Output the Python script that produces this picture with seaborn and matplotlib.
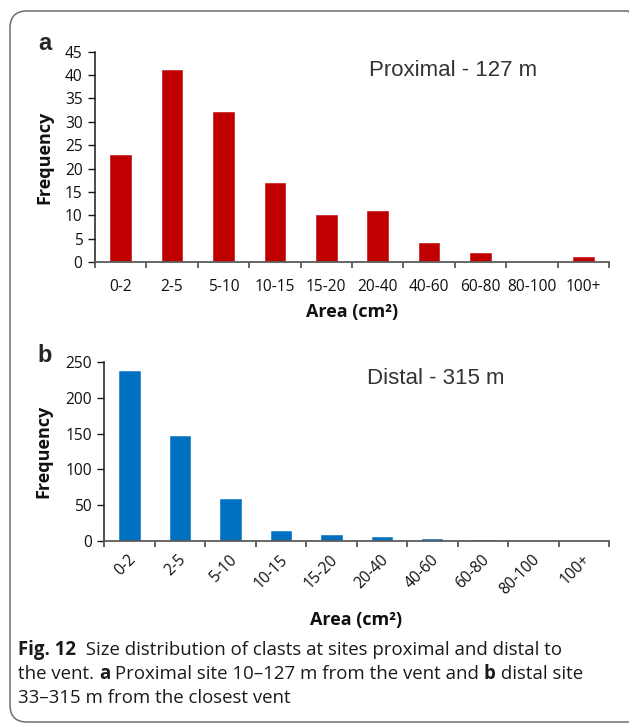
import numpy as np
import pandas as pd
import matplotlib
matplotlib.use("Agg")
import matplotlib.pyplot as plt
from matplotlib.patches import FancyBboxPatch
from matplotlib.transforms import ScaledTranslation
import seaborn as sns

# Clast area classes and counts at the two sites
area_classes = ["0-2", "2-5", "5-10", "10-15", "15-20", "20-40", "40-60", "60-80", "80-100", "100+"]
proximal_counts = [23, 41, 32, 17, 10, 11, 4, 2, 0, 1]
distal_counts = [237, 147, 58, 14, 8, 5, 3, 1, 0, 0]
proximal_ticks = [0, 5, 10, 15, 20, 25, 30, 35, 40, 45]
distal_ticks = [0, 50, 100, 150, 200, 250]

sns.set_style("white")
plt.rcParams["font.family"] = ["Open Sans", "DejaVu Sans"]

W, H = 629, 724
fig = plt.figure(figsize=(W / 100, H / 100), dpi=100)


def fx(px):
    return px / W


def fy(py):
    return 1 - py / H


# Rounded frame around the whole figure (drawn in inches, y measured from bottom)
frame = FancyBboxPatch((10 / 100, (H - 722) / 100), (645 - 10) / 100, (722 - 11) / 100,
                       boxstyle="round,pad=0,rounding_size=0.17",
                       transform=fig.dpi_scale_trans, fill=False,
                       edgecolor="#6e6e6e", linewidth=1.1)
fig.add_artist(frame)


def histogram_panel(rect, counts, color, yticks, rotate):
    ax = fig.add_axes(rect)
    df = pd.DataFrame({"area": area_classes, "freq": counts})
    sns.barplot(data=df, x="area", y="freq", color=color, width=0.4,
                saturation=1, edgecolor=color, linewidth=0.4, ax=ax)
    ax.set_xlim(-0.5, len(area_classes) - 0.5)
    ax.set_ylim(yticks[0], yticks[-1])
    ax.set_yticks(yticks)
    ax.set_yticklabels([str(t) for t in yticks], fontsize=11.2)
    for side in ("top", "right"):
        ax.spines[side].set_visible(False)
    ax.spines["left"].set_color("#1a1a1a")
    ax.spines["left"].set_linewidth(1.1)
    ax.spines["bottom"].set_color("#5c5c5c")
    ax.spines["bottom"].set_linewidth(1.3)
    ax.tick_params(axis="y", which="major", length=5, width=1.0, color="#1a1a1a",
                   pad=4, left=True, labelcolor="#111111")
    ax.set_xticks(np.arange(-0.5, len(area_classes), 1.0), minor=True)
    ax.tick_params(axis="x", which="minor", length=4, width=1.1, color="#3a3a3a",
                   bottom=True, direction="out")
    ax.set_xticks(range(len(area_classes)))
    if rotate:
        ax.tick_params(axis="x", which="major", length=0, pad=6, labelsize=11.2,
                       labelcolor="#111111")
        ax.set_xticklabels(area_classes, rotation=45, ha="right", va="center",
                           rotation_mode="anchor")
        for lab in ax.get_xticklabels():
            lab.set_transform(lab.get_transform()
                              + ScaledTranslation(4 / 100, -8 / 100, fig.dpi_scale_trans))
    else:
        ax.tick_params(axis="x", which="major", length=0, pad=12, labelsize=11.2,
                       labelcolor="#111111")
    ax.set_xlabel("")
    ax.set_ylabel("")
    ax.grid(False)
    return ax


ax_a = histogram_panel([fx(95), fy(262), fx(609) - fx(95), fy(51.7) - fy(262)],
                       proximal_counts, "#C00000", proximal_ticks, rotate=False)
ax_b = histogram_panel([fx(104.3), fy(541), fx(609) - fx(104.3), fy(362) - fy(541)],
                       distal_counts, "#0070C0", distal_ticks, rotate=True)

label_kw = dict(fontsize=13, fontweight="bold", color="#111111")
fig.text(fx(352), fy(312), "Area (cm²)", ha="center", va="center", **label_kw)
fig.text(fx(44), fy(157), "Frequency", ha="center", va="center", rotation=90, **label_kw)
fig.text(fx(356), fy(620), "Area (cm²)", ha="center", va="center", **label_kw)
fig.text(fx(43), fy(451), "Frequency", ha="center", va="center", rotation=90, **label_kw)

# Panel letters and site titles
fig.text(fx(45), fy(43), "a", ha="center", va="center", fontsize=17, fontweight="bold",
         family="Liberation Sans")
fig.text(fx(45), fy(355), "b", ha="center", va="center", fontsize=17, fontweight="bold",
         family="Liberation Sans")
fig.text(fx(369), fy(71), "Proximal - 127 m", ha="left", va="center", fontsize=16,
         family="Liberation Sans", color="#333333")
fig.text(fx(367), fy(378), "Distal - 315 m", ha="left", va="center", fontsize=16,
         family="Liberation Sans", color="#333333")

# Caption with bold runs
renderer = fig.canvas.get_renderer()


def draw_runs(x_px, y_px, runs, size):
    x = x_px
    for text, weight in runs:
        t = fig.text(fx(x), fy(y_px), text, ha="left", va="center", fontsize=size,
                     fontweight=weight, color="#1a1a1a")
        x += t.get_window_extent(renderer).width


caption_lines = [
    [("Fig. 12", "bold"), ("  Size distribution of clasts at sites proximal and distal to", "normal")],
    [("the vent. ", "normal"), ("a", "bold"), (" Proximal site 10–127 m from the vent and ", "normal"),
     ("b", "bold"), (" distal site", "normal")],
    [("33–315 m from the closest vent", "normal")],
]
for i, runs in enumerate(caption_lines):
    draw_runs(18, 650 + 24 * i, runs, size=13.4)

fig.savefig("out.png", dpi=100)
